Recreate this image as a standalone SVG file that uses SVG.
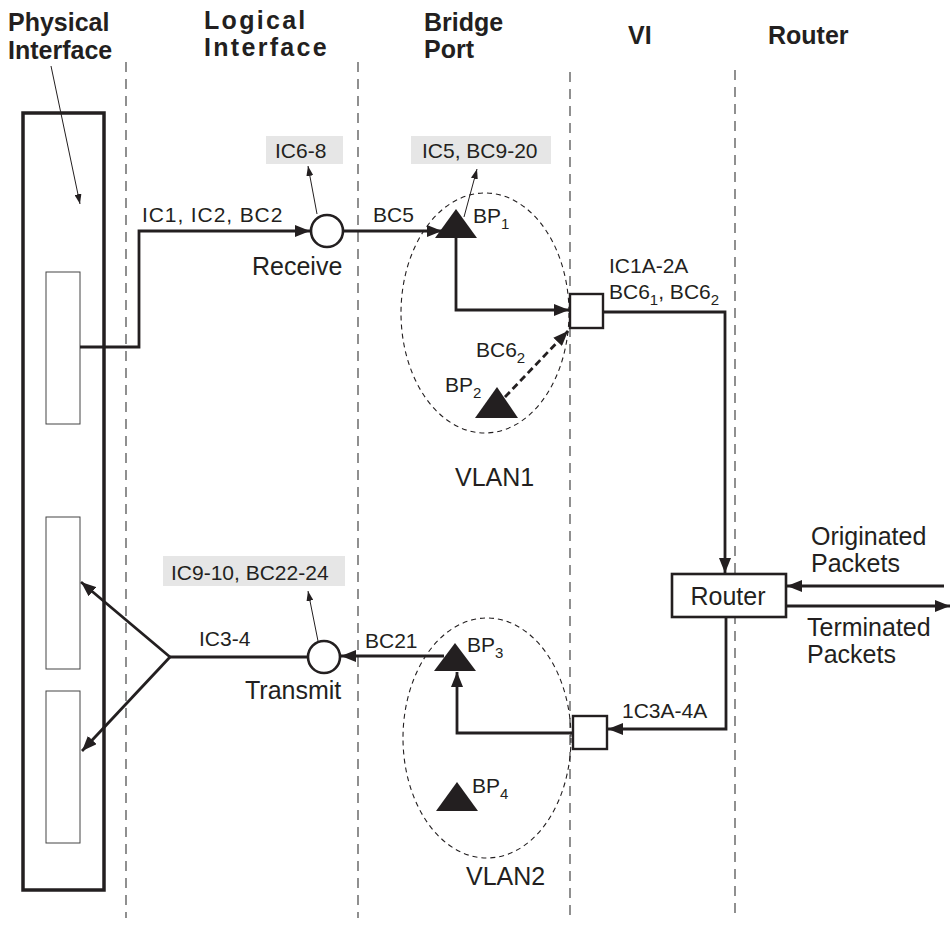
<svg xmlns="http://www.w3.org/2000/svg" width="951" height="930" viewBox="0 0 951 930">
<style>
text{font-family:"Liberation Sans",Arial,sans-serif;fill:#231f20}
.hdr{font-weight:bold;font-size:25px}
.lbl{font-size:21px}
.big{font-size:25px}
.sub{font-size:15px}
.dl{stroke:#555;stroke-width:1.3;stroke-dasharray:10 7;fill:none}
.ln{stroke:#231f20;stroke-width:2.8;fill:none}
.thin{stroke:#231f20;stroke-width:1;fill:none}
.ell{stroke:#231f20;stroke-width:1.1;stroke-dasharray:5 4;fill:none}
.gbox{fill:#e6e6e6}
.tri{fill:#231f20}
.nd{fill:#fff;stroke:#231f20;stroke-width:2.6}
</style>
<defs>
<marker id="ah" markerUnits="userSpaceOnUse" markerWidth="15" markerHeight="12" refX="15" refY="6" orient="auto"><path d="M0,0 L15,6 L0,12 z" fill="#231f20"/></marker>
<marker id="as" markerUnits="userSpaceOnUse" markerWidth="10" markerHeight="7" refX="10" refY="3.5" orient="auto"><path d="M0,0 L10,3.5 L0,7 z" fill="#231f20"/></marker>
</defs>
<rect width="951" height="930" fill="#fff"/>
<g id="lanes">
<line class="dl" x1="126" y1="62" x2="126" y2="918"/>
<line class="dl" x1="358" y1="62" x2="358" y2="918"/>
<line class="dl" x1="570" y1="72" x2="570" y2="918"/>
<line class="dl" x1="735" y1="70" x2="735" y2="918"/>
</g>
<g id="headers">
<text class="hdr" x="8" y="31">Physical</text>
<text class="hdr" x="8" y="59">Interface</text>
<text class="hdr" x="204" y="29" letter-spacing="2.3">Logical</text>
<text class="hdr" x="204" y="56" letter-spacing="2.3">Interface</text>
<text class="hdr" x="424" y="31">Bridge</text>
<text class="hdr" x="424" y="58">Port</text>
<text class="hdr" x="628" y="44">VI</text>
<text class="hdr" x="768" y="44">Router</text>
</g>
<g id="physical">
<rect x="23" y="113" width="81" height="777" fill="none" stroke="#231f20" stroke-width="3.5"/>
<rect x="46" y="272" width="34" height="152" fill="none" stroke="#444" stroke-width="1"/>
<rect x="46" y="517" width="34" height="152" fill="none" stroke="#444" stroke-width="1"/>
<rect x="46" y="691" width="34" height="152" fill="none" stroke="#444" stroke-width="1"/>
</g>
<g id="vlan1">
<ellipse class="ell" cx="485" cy="313" rx="84" ry="120"/>
<text class="big" x="455" y="486">VLAN1</text>
</g>
<g id="vlan2">
<ellipse class="ell" cx="487" cy="738" rx="84" ry="120"/>
<text class="big" x="466" y="885">VLAN2</text>
</g>
<g id="connectors">
<line class="thin" x1="51" y1="66" x2="80" y2="204" marker-end="url(#as)"/>
<path class="ln" d="M80,347 H139 V231 H310" marker-end="url(#ah)"/>
<path class="ln" d="M343,231 H442" marker-end="url(#ah)"/>
<line class="thin" x1="317" y1="214" x2="308" y2="166" marker-end="url(#as)"/>
<line class="thin" x1="464" y1="217" x2="477" y2="169" marker-end="url(#as)"/>
<path class="ln" d="M456,236 V310 H569" marker-end="url(#ah)"/>
<path class="ln" d="M505,397 L568,331" stroke-dasharray="7 4" stroke-width="3" marker-end="url(#ah)"/>
<path class="ln" d="M603,312 H725 V573" marker-end="url(#ah)"/>
<path class="ln" d="M944,586 H787" marker-end="url(#ah)"/>
<path class="ln" d="M786,606 H950" marker-end="url(#ah)"/>
<path class="ln" d="M726,617 V729 H608" marker-end="url(#ah)"/>
<path class="ln" d="M573,733 H457 V672" marker-end="url(#ah)"/>
<path class="ln" d="M444,656 H341" marker-end="url(#ah)"/>
<line class="thin" x1="318" y1="641" x2="308" y2="591" marker-end="url(#as)"/>
<path class="ln" d="M308,657 H170"/>
<path class="ln" d="M170,657 L81,582" marker-end="url(#ah)"/>
<path class="ln" d="M170,657 L82,751" marker-end="url(#ah)"/>
</g>
<g id="receive">
<circle class="nd" cx="327" cy="231" r="16"/>
<text class="big" x="252" y="275">Receive</text>
<text class="lbl" x="142" y="222" letter-spacing="0.9">IC1, IC2, BC2</text>
</g>
<g id="ic6-8">
<rect class="gbox" x="266" y="136" width="77" height="28"/>
<text class="lbl" x="275" y="158">IC6-8</text>
</g>
<g id="bp1">
<polygon class="tri" points="456,209 477,238 435,238"/>
<text class="lbl" x="473" y="223">BP<tspan class="sub" dy="6">1</tspan></text>
<text class="lbl" x="373" y="222">BC5</text>
</g>
<g id="ic5">
<rect class="gbox" x="411" y="136" width="140" height="28"/>
<text class="lbl" x="422" y="158">IC5, BC9-20</text>
</g>
<g id="bp2">
<polygon class="tri" points="497,387 518,418 475,418"/>
<text class="lbl" x="445" y="392">BP<tspan class="sub" dy="6">2</tspan></text>
<text class="lbl" x="476" y="357">BC6<tspan class="sub" dy="6">2</tspan></text>
</g>
<g id="vi1">
<rect x="570" y="294" width="33" height="34" fill="#fff" stroke="#231f20" stroke-width="2.4"/>
<text class="lbl" x="609" y="273">IC1A-2A</text>
<text class="lbl" x="609" y="299">BC6<tspan class="sub" dy="6">1</tspan><tspan dy="-6">, BC6</tspan><tspan class="sub" dy="6">2</tspan></text>
</g>
<g id="router">
<rect x="672" y="574" width="114" height="43" fill="#fff" stroke="#231f20" stroke-width="2.6"/>
<text class="big" x="728" y="605" text-anchor="middle" font-size="24">Router</text>
<text class="big" x="811" y="545">Originated</text>
<text class="big" x="811" y="572">Packets</text>
<text class="big" x="807" y="636">Terminated</text>
<text class="big" x="807" y="663">Packets</text>
</g>
<g id="vi2">
<rect x="573" y="716" width="34" height="33" fill="#fff" stroke="#231f20" stroke-width="2.4"/>
<text class="lbl" x="622" y="718">1C3A-4A</text>
</g>
<g id="bp3">
<polygon class="tri" points="455,643 476,671 434,671"/>
<text class="lbl" x="467" y="652">BP<tspan class="sub" dy="6">3</tspan></text>
<text class="lbl" x="365" y="648">BC21</text>
</g>
<g id="bp4">
<polygon class="tri" points="457,782 478,811 436,811"/>
<text class="lbl" x="472" y="793">BP<tspan class="sub" dy="6">4</tspan></text>
</g>
<g id="transmit">
<circle class="nd" cx="324" cy="657" r="16"/>
<text class="big" x="245" y="699">Transmit</text>
<text class="lbl" x="199" y="646">IC3-4</text>
</g>
<g id="ic9-10">
<rect class="gbox" x="163" y="556" width="182" height="30"/>
<text class="lbl" x="171" y="580">IC9-10, BC22-24</text>
</g>
</svg>
